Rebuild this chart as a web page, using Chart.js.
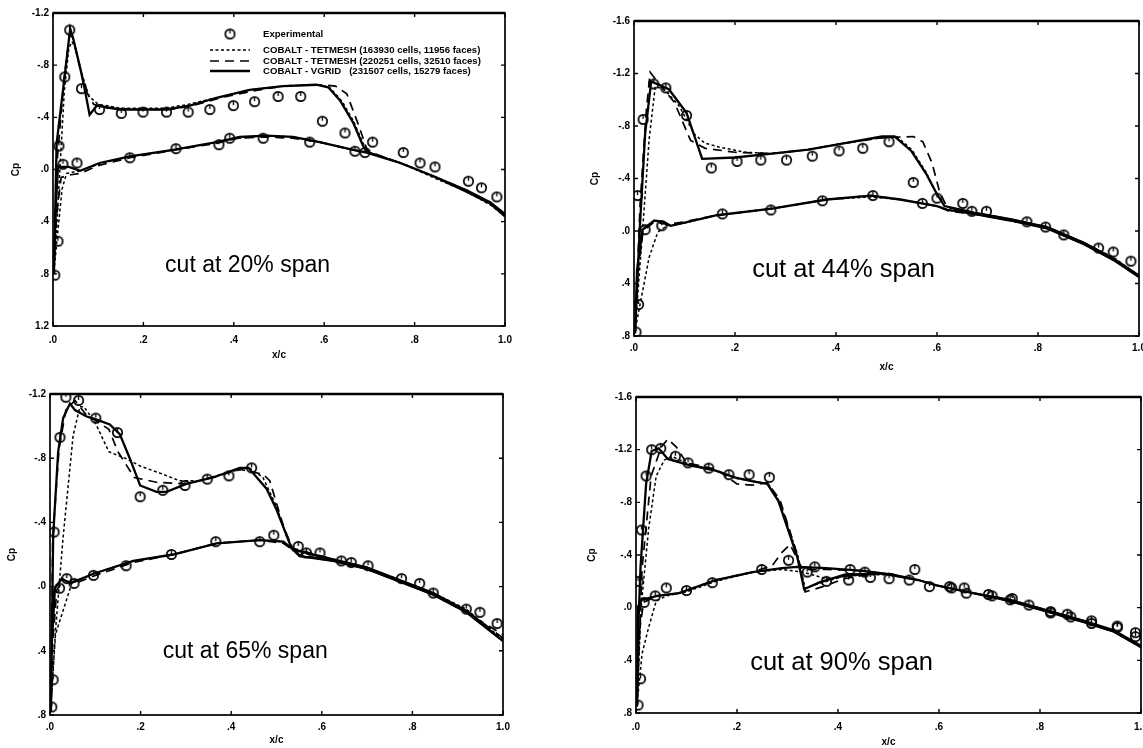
<!DOCTYPE html>
<html>
<head>
<meta charset="utf-8">
<script src="https://cdn.jsdelivr.net/npm/chart.js@4.4.1/dist/chart.umd.min.js"></script>
<style>
  body { margin: 0; background: #fff; width: 1143px; height: 748px; overflow: hidden; position: relative; }
  canvas { position: absolute; }
</style>
</head>
<body>
<canvas id="c1" width="520" height="372" style="left:0px;top:0px"></canvas>
<canvas id="c2" width="580" height="376" style="left:578px;top:0px"></canvas>
<canvas id="c3" width="520" height="374" style="left:0px;top:374px"></canvas>
<canvas id="c4" width="580" height="373" style="left:578px;top:375px"></canvas>
<script>
'use strict'

// ------------------------- Ejes -------------------------------------- //
const xTicks = [0, 0.2, 0.4, 0.6, 0.8, 1.0];
const xTickLabels = ['.0', '.2', '.4', '.6', '.8', '1.0'];
const yTicks12 = [-1.2, -0.8, -0.4, 0, 0.4, 0.8, 1.2];
const yTickLabels12 = ['-1.2', '-.8', '-.4', '.0', '.4', '.8', '1.2'];
const yTicks16 = [-1.6, -1.2, -0.8, -0.4, 0, 0.4, 0.8];
const yTickLabels16 = ['-1.6', '-1.2', '-.8', '-.4', '.0', '.4', '.8'];
const yTicks08 = [-1.2, -0.8, -0.4, 0, 0.4, 0.8];
const yTickLabels08 = ['-1.2', '-.8', '-.4', '.0', '.4', '.8'];

const seriesLabels = [
    'Experimental',
    'COBALT - TETMESH (163930 cells, 11956 faces)',
    'COBALT - TETMESH (220251 cells, 32510 faces)',
    'COBALT - VGRID   (231507 cells, 15279 faces)'
];
const cutLabels = ['cut at 20% span', 'cut at 44% span', 'cut at 65% span', 'cut at 90% span'];

// ------------------------- 20% span -------------------------------------- //
const p1Exp = [
    [0.004,0.81],[0.011,0.55],[0.013,-0.18],[0.026,-0.71],[0.037,-1.07],[0.063,-0.62],[0.103,-0.46],[0.151,-0.43],
    [0.199,-0.44],[0.251,-0.44],[0.299,-0.44],[0.347,-0.46],[0.399,-0.49],[0.446,-0.52],[0.498,-0.56],[0.548,-0.56],
    [0.596,-0.37],[0.646,-0.28],[0.707,-0.21],[0.775,-0.13],[0.812,-0.05],[0.845,-0.02],[0.919,0.09],[0.948,0.14],[0.982,0.21],
    [0.022,-0.04],[0.053,-0.05],[0.170,-0.09],[0.272,-0.16],[0.367,-0.19],[0.391,-0.24],[0.465,-0.24],[0.568,-0.21],[0.668,-0.14],[0.690,-0.13]
];
const p1Tet1Upper = [
    [0.003,0.75],[0.012,0.2],[0.025,-0.6],[0.035,-0.93],[0.042,-0.98],[0.05,-0.93],[0.065,-0.72],[0.08,-0.56],[0.1,-0.5],
    [0.15,-0.47],[0.2,-0.47],[0.25,-0.47],[0.3,-0.5],[0.36,-0.55],[0.435,-0.61],[0.51,-0.64],[0.585,-0.65],[0.612,-0.63],
    [0.64,-0.52],[0.665,-0.37],[0.69,-0.17],[0.70,-0.13],[0.77,-0.05],[0.84,0.05],[0.915,0.17],[0.967,0.26],[1.0,0.35]
];
const p1Tet1Lower = [
    [0.003,0.75],[0.01,0.5],[0.02,0.15],[0.03,0.03],[0.045,0.02],[0.06,0.01],[0.1,-0.04],[0.17,-0.1],[0.266,-0.15],
    [0.36,-0.21],[0.41,-0.24],[0.47,-0.26],[0.53,-0.25],[0.59,-0.21],[0.664,-0.15],[0.7,-0.13],[0.77,-0.05],[0.84,0.06],
    [0.915,0.17],[0.967,0.27],[1.0,0.36]
];
const p1Tet2Upper = [
    [0.002,0.78],[0.01,-0.1],[0.024,-0.68],[0.036,-1.02],[0.043,-1.02],[0.055,-0.85],[0.07,-0.62],[0.09,-0.5],[0.12,-0.47],
    [0.2,-0.46],[0.26,-0.46],[0.31,-0.49],[0.37,-0.55],[0.44,-0.6],[0.51,-0.64],[0.59,-0.65],[0.625,-0.64],[0.65,-0.58],
    [0.675,-0.35],[0.695,-0.15],[0.72,-0.11],[0.77,-0.05],[0.84,0.05],[0.915,0.17],[0.967,0.26],[1.0,0.35]
];
const p1Tet2Lower = [
    [0.002,0.78],[0.008,0.35],[0.018,0.06],[0.04,0.04],[0.06,0.03],[0.1,-0.03],[0.17,-0.09],[0.27,-0.15],[0.36,-0.2],
    [0.41,-0.24],[0.47,-0.25],[0.53,-0.24],[0.59,-0.21],[0.664,-0.15],[0.7,-0.13],[0.77,-0.05],[0.84,0.05],[0.915,0.16],
    [0.967,0.25],[1.0,0.35]
];
const p1VgridUpper = [
    [0.002,0.80],[0.008,-0.20],[0.026,-0.72],[0.038,-1.08],[0.045,-1.0],[0.066,-0.69],[0.081,-0.42],[0.097,-0.49],
    [0.148,-0.46],[0.200,-0.46],[0.251,-0.46],[0.303,-0.49],[0.362,-0.55],[0.435,-0.61],[0.509,-0.64],[0.583,-0.65],
    [0.609,-0.63],[0.635,-0.53],[0.664,-0.36],[0.686,-0.18],[0.697,-0.13],[0.768,-0.05],[0.841,0.05],[0.915,0.17],
    [0.967,0.26],[1.0,0.36]
];
const p1VgridLower = [
    [0.002,0.80],[0.006,0.3],[0.011,-0.02],[0.035,-0.02],[0.060,0.01],[0.103,-0.05],[0.170,-0.10],[0.266,-0.15],
    [0.362,-0.21],[0.413,-0.25],[0.472,-0.26],[0.531,-0.25],[0.590,-0.21],[0.664,-0.15],[0.694,-0.13],[0.768,-0.05],
    [0.841,0.05],[0.915,0.16],[0.967,0.25],[1.0,0.34]
];

// ------------------------- 44% span -------------------------------------- //
const p2Exp = [
    [0.004,0.77],[0.009,0.56],[0.007,-0.27],[0.018,-0.85],[0.039,-1.12],[0.063,-1.09],[0.104,-0.88],[0.153,-0.48],
    [0.204,-0.53],[0.251,-0.54],[0.302,-0.54],[0.353,-0.57],[0.406,-0.61],[0.453,-0.63],[0.505,-0.68],[0.553,-0.37],
    [0.6,-0.25],[0.651,-0.21],[0.669,-0.15],[0.698,-0.15],[0.778,-0.07],[0.815,-0.03],[0.851,0.03],[0.92,0.13],
    [0.949,0.16],[0.984,0.23],
    [0.022,-0.01],[0.055,-0.04],[0.175,-0.13],[0.271,-0.16],[0.373,-0.23],[0.473,-0.27],[0.571,-0.21]
];
const p2Tet1Upper = [
    [0.002,0.76],[0.015,0.1],[0.03,-0.7],[0.042,-1.1],[0.06,-1.08],[0.09,-0.95],[0.119,-0.74],[0.14,-0.67],[0.168,-0.64],
    [0.22,-0.6],[0.28,-0.59],[0.345,-0.62],[0.418,-0.67],[0.49,-0.71],[0.52,-0.72],[0.55,-0.62],[0.578,-0.45],[0.6,-0.28],
    [0.615,-0.19],[0.673,-0.14],[0.745,-0.09],[0.818,-0.03],[0.891,0.09],[0.949,0.2],[1.0,0.34]
];
const p2Tet1Lower = [
    [0.002,0.76],[0.015,0.5],[0.03,0.2],[0.047,0.01],[0.065,-0.04],[0.1,-0.06],[0.164,-0.12],[0.273,-0.17],[0.382,-0.24],
    [0.469,-0.26],[0.527,-0.24],[0.6,-0.19],[0.622,-0.16],[0.673,-0.13],[0.745,-0.08],[0.818,-0.02],[0.891,0.1],
    [0.949,0.21],[1.0,0.34]
];
const p2Tet2Upper = [
    [0.002,0.77],[0.012,-0.2],[0.024,-0.9],[0.032,-1.21],[0.05,-1.12],[0.08,-0.98],[0.112,-0.69],[0.141,-0.63],[0.2,-0.6],
    [0.273,-0.59],[0.345,-0.62],[0.418,-0.67],[0.49,-0.71],[0.553,-0.72],[0.572,-0.68],[0.59,-0.52],[0.605,-0.3],
    [0.62,-0.18],[0.673,-0.14],[0.745,-0.09],[0.818,-0.03],[0.891,0.09],[0.949,0.21],[1.0,0.34]
];
const p2Tet2Lower = [
    [0.002,0.77],[0.008,0.3],[0.018,0.0],[0.04,-0.07],[0.065,-0.05],[0.1,-0.07],[0.164,-0.12],[0.273,-0.17],[0.382,-0.24],
    [0.469,-0.27],[0.527,-0.24],[0.6,-0.19],[0.625,-0.15],[0.673,-0.13],[0.745,-0.08],[0.818,-0.02],[0.891,0.1],
    [0.949,0.22],[1.0,0.35]
];
const p2VgridUpper = [
    [0.002,0.78],[0.011,0.01],[0.022,-0.74],[0.034,-1.14],[0.069,-1.08],[0.104,-0.9],[0.135,-0.55],[0.2,-0.56],
    [0.273,-0.59],[0.345,-0.62],[0.418,-0.67],[0.491,-0.72],[0.516,-0.72],[0.549,-0.61],[0.578,-0.44],[0.6,-0.28],
    [0.615,-0.19],[0.673,-0.14],[0.745,-0.09],[0.818,-0.03],[0.891,0.09],[0.949,0.21],[1.0,0.34]
];
const p2VgridLower = [
    [0.002,0.78],[0.006,0.3],[0.017,-0.01],[0.04,-0.08],[0.058,-0.07],[0.073,-0.04],[0.164,-0.12],[0.273,-0.17],
    [0.382,-0.24],[0.469,-0.27],[0.527,-0.24],[0.6,-0.19],[0.622,-0.16],[0.673,-0.13],[0.745,-0.08],[0.818,-0.02],
    [0.891,0.1],[0.949,0.22],[1.0,0.35]
];

// ------------------------- 65% span -------------------------------------- //
const p3Exp = [
    [0.004,0.75],[0.007,0.58],[0.009,-0.34],[0.022,-0.93],[0.035,-1.18],[0.063,-1.16],[0.101,-1.05],[0.149,-0.96],
    [0.199,-0.56],[0.249,-0.6],[0.298,-0.63],[0.347,-0.67],[0.395,-0.69],[0.445,-0.74],[0.548,-0.25],[0.566,-0.21],
    [0.596,-0.21],[0.643,-0.16],[0.665,-0.15],[0.702,-0.13],[0.776,-0.05],[0.816,-0.02],[0.846,0.04],[0.919,0.14],
    [0.949,0.16],[0.987,0.23],
    [0.021,0.01],[0.037,-0.05],[0.053,-0.02],[0.096,-0.07],[0.168,-0.13],[0.268,-0.2],[0.366,-0.28],[0.463,-0.28],[0.494,-0.32]
];
const p3Tet1Upper = [
    [0.002,0.75],[0.012,0.28],[0.029,-0.31],[0.051,-0.94],[0.066,-1.12],[0.075,-1.12],[0.1,-1.02],[0.13,-0.84],
    [0.166,-0.8],[0.2,-0.75],[0.24,-0.71],[0.285,-0.66],[0.33,-0.66],[0.404,-0.72],[0.44,-0.74],[0.47,-0.68],[0.5,-0.5],
    [0.52,-0.33],[0.537,-0.22],[0.625,-0.17],[0.699,-0.12],[0.772,-0.04],[0.846,0.04],[0.919,0.14],[1.0,0.33]
];
const p3Tet1Lower = [
    [0.002,0.75],[0.012,0.3],[0.022,0.21],[0.048,-0.02],[0.096,-0.08],[0.184,-0.16],[0.272,-0.2],[0.368,-0.27],
    [0.463,-0.29],[0.515,-0.28],[0.551,-0.19],[0.625,-0.16],[0.699,-0.11],[0.772,-0.03],[0.846,0.05],[0.919,0.15],[1.0,0.33]
];
const p3Tet2Upper = [
    [0.002,0.77],[0.006,-0.3],[0.02,-0.86],[0.035,-1.1],[0.055,-1.16],[0.08,-1.07],[0.103,-1.03],[0.13,-0.98],[0.15,-0.84],
    [0.186,-0.68],[0.235,-0.65],[0.3,-0.64],[0.36,-0.68],[0.42,-0.73],[0.47,-0.7],[0.485,-0.66],[0.515,-0.38],[0.535,-0.24],
    [0.625,-0.17],[0.699,-0.12],[0.772,-0.04],[0.846,0.04],[0.919,0.15],[1.0,0.32]
];
const p3Tet2Lower = [
    [0.002,0.77],[0.006,0.35],[0.015,0.02],[0.03,-0.04],[0.055,-0.02],[0.1,-0.07],[0.184,-0.15],[0.272,-0.2],[0.368,-0.27],
    [0.463,-0.29],[0.515,-0.27],[0.55,-0.2],[0.625,-0.16],[0.699,-0.11],[0.772,-0.03],[0.846,0.05],[0.919,0.16],[1.0,0.3]
];
const p3VgridUpper = [
    [0.002,0.78],[0.004,0.35],[0.007,-0.32],[0.018,-0.84],[0.029,-1.05],[0.044,-1.14],[0.055,-1.1],[0.081,-1.06],
    [0.103,-1.04],[0.132,-1.01],[0.154,-0.95],[0.176,-0.8],[0.199,-0.63],[0.235,-0.59],[0.257,-0.59],[0.301,-0.64],
    [0.36,-0.68],[0.419,-0.74],[0.438,-0.74],[0.478,-0.61],[0.5,-0.48],[0.529,-0.27],[0.537,-0.23],[0.625,-0.17],
    [0.699,-0.12],[0.772,-0.04],[0.846,0.04],[0.919,0.15],[1.0,0.34]
];
const p3VgridLower = [
    [0.002,0.78],[0.004,0.35],[0.011,0.01],[0.026,-0.05],[0.044,-0.02],[0.096,-0.08],[0.184,-0.16],[0.272,-0.2],
    [0.368,-0.27],[0.463,-0.29],[0.515,-0.28],[0.537,-0.23],[0.551,-0.19],[0.625,-0.16],[0.699,-0.11],[0.772,-0.03],
    [0.846,0.05],[0.919,0.16],[1.0,0.34]
];

// ------------------------- 90% span -------------------------------------- //
const p4Exp = [
    [0.004,0.74],[0.009,0.54],[0.004,-0.2],[0.011,-0.59],[0.02,-1.0],[0.031,-1.2],[0.049,-1.21],[0.078,-1.15],[0.103,-1.1],
    [0.144,-1.06],[0.184,-1.01],[0.224,-1.01],[0.264,-0.99],[0.302,-0.36],[0.354,-0.31],[0.424,-0.29],[0.453,-0.27],
    [0.501,-0.22],[0.552,-0.29],[0.621,-0.16],[0.65,-0.15],[0.698,-0.1],[0.745,-0.07],[0.778,-0.02],[0.821,0.03],
    [0.854,0.05],[0.902,0.1],[0.953,0.15],[0.989,0.19],
    [0.016,-0.04],[0.038,-0.09],[0.06,-0.15],[0.1,-0.13],[0.151,-0.19],[0.249,-0.29],[0.339,-0.27],[0.377,-0.2],
    [0.421,-0.21],[0.464,-0.23],[0.541,-0.21],[0.581,-0.16],[0.625,-0.15],[0.654,-0.11],[0.705,-0.09],[0.741,-0.06],
    [0.821,0.04],[0.861,0.07],[0.902,0.12],[0.953,0.14],[0.989,0.22]
];
const p4Tet1Upper = [
    [0.002,0.74],[0.01,0.0],[0.025,-0.6],[0.04,-1.0],[0.056,-1.12],[0.07,-1.15],[0.1,-1.1],[0.158,-1.04],[0.2,-0.98],
    [0.235,-0.96],[0.262,-0.94],[0.285,-0.8],[0.32,-0.4],[0.335,-0.15],[0.36,-0.18],[0.413,-0.24],[0.486,-0.26],
    [0.559,-0.21],[0.595,-0.17],[0.668,-0.11],[0.741,-0.06],[0.814,0.02],[0.887,0.1],[0.945,0.18],[1.0,0.29]
];
const p4Tet1Lower = [
    [0.002,0.74],[0.012,0.35],[0.025,0.15],[0.04,-0.05],[0.06,-0.09],[0.1,-0.12],[0.158,-0.2],[0.231,-0.27],[0.289,-0.29],
    [0.33,-0.27],[0.377,-0.22],[0.45,-0.25],[0.508,-0.25],[0.559,-0.21],[0.595,-0.17],[0.668,-0.11],[0.741,-0.05],
    [0.814,0.03],[0.887,0.11],[0.945,0.18],[1.0,0.3]
];
const p4Tet2Upper = [
    [0.002,0.75],[0.012,-0.3],[0.03,-1.0],[0.05,-1.22],[0.063,-1.28],[0.08,-1.22],[0.1,-1.1],[0.16,-1.05],[0.2,-0.94],
    [0.23,-0.93],[0.26,-0.95],[0.285,-0.82],[0.318,-0.42],[0.335,-0.12],[0.37,-0.16],[0.413,-0.22],[0.47,-0.26],
    [0.5,-0.26],[0.559,-0.21],[0.595,-0.17],[0.668,-0.11],[0.741,-0.06],[0.814,0.02],[0.887,0.1],[0.945,0.18],[1.0,0.29]
];
const p4Tet2Lower = [
    [0.002,0.75],[0.006,0.2],[0.015,-0.04],[0.042,-0.09],[0.085,-0.11],[0.158,-0.21],[0.231,-0.27],[0.27,-0.32],
    [0.289,-0.42],[0.305,-0.48],[0.318,-0.38],[0.33,-0.29],[0.377,-0.29],[0.45,-0.28],[0.508,-0.25],[0.559,-0.21],
    [0.595,-0.17],[0.668,-0.11],[0.741,-0.05],[0.814,0.03],[0.887,0.11],[0.945,0.18],[1.0,0.3]
];
const p4VgridUpper = [
    [0.002,0.75],[0.004,0.2],[0.009,-0.31],[0.02,-0.94],[0.031,-1.19],[0.045,-1.21],[0.063,-1.13],[0.107,-1.08],
    [0.158,-1.04],[0.195,-0.99],[0.231,-0.96],[0.26,-0.94],[0.282,-0.81],[0.319,-0.39],[0.333,-0.14],[0.362,-0.19],
    [0.413,-0.25],[0.486,-0.26],[0.559,-0.21],[0.595,-0.17],[0.668,-0.11],[0.741,-0.06],[0.814,0.02],[0.887,0.1],
    [0.945,0.17],[1.0,0.29]
];
const p4VgridLower = [
    [0.002,0.75],[0.004,-0.01],[0.012,-0.06],[0.042,-0.09],[0.085,-0.11],[0.158,-0.21],[0.231,-0.27],[0.289,-0.3],
    [0.319,-0.31],[0.377,-0.3],[0.45,-0.28],[0.508,-0.25],[0.559,-0.21],[0.595,-0.17],[0.668,-0.11],[0.741,-0.05],
    [0.814,0.03],[0.887,0.11],[0.945,0.18],[1.0,0.3]
];

// ------------------------- Funciones -------------------------------------- //
const FONT = "'Liberation Sans', Arial, Helvetica, sans-serif";

function toPoints(arr) {
    return arr.map(p => ({x: p[0], y: p[1]}));
}

// borde de salida -> borde de ataque por el extrados, y vuelta por el intrados
function loop(upper, lower) {
    return toPoints(upper.slice().reverse().concat(lower.slice(1)));
}

function makeMarker() {
    const c = document.createElement('canvas');
    c.width = 13;
    c.height = 13;
    const g = c.getContext('2d');
    g.strokeStyle = '#000';
    g.lineWidth = 1.7;
    g.beginPath();
    g.arc(6.5, 6.5, 4.7, 0, 2 * Math.PI);
    g.stroke();
    g.lineWidth = 1.3;
    g.beginPath();
    g.moveTo(6.5, 2.5);
    g.lineTo(6.5, 6);
    g.stroke();
    return c;
}
const marker = makeMarker();

function drawLegend(chart, lg) {
    const ctx = chart.ctx;
    const sets = chart.data.datasets;
    ctx.font = 'bold 9.6px ' + FONT;
    ctx.textAlign = 'left';
    ctx.textBaseline = 'middle';
    for (let i = 0; i < sets.length; i++) {
        const y = lg.rows[i];
        const ds = sets[i];
        if (i === 0) {
            ctx.drawImage(marker, (lg.x0 + lg.x1) / 2 - marker.width / 2, y - marker.height / 2);
        } else {
            ctx.save();
            ctx.lineWidth = ds.borderWidth;
            ctx.setLineDash(ds.borderDash || []);
            ctx.beginPath();
            ctx.moveTo(lg.x0, y);
            ctx.lineTo(lg.x1, y);
            ctx.stroke();
            ctx.restore();
        }
        ctx.fillText(ds.label, lg.tx, y);
    }
}

const framePlugin = {
    id: 'cpFrame',
    afterDraw(chart, args, opts) {
        const ctx = chart.ctx;
        const a = chart.chartArea;
        const xs = chart.scales.x;
        const ys = chart.scales.y;
        ctx.save();
        ctx.strokeStyle = '#000';
        ctx.fillStyle = '#000';
        ctx.lineWidth = 1.7;
        ctx.strokeRect(a.left, a.top, a.right - a.left, a.bottom - a.top);
        ctx.lineWidth = 2.6;
        ctx.beginPath();
        ctx.moveTo(a.left, a.top);
        ctx.lineTo(a.right, a.top);
        ctx.stroke();
        // marcas hacia dentro en los cuatro lados
        ctx.lineWidth = 1.4;
        ctx.beginPath();
        for (const t of xs.ticks) {
            const px = xs.getPixelForValue(t.value);
            ctx.moveTo(px, a.bottom); ctx.lineTo(px, a.bottom - 4);
            ctx.moveTo(px, a.top); ctx.lineTo(px, a.top + 4);
        }
        for (const t of ys.ticks) {
            const py = ys.getPixelForValue(t.value);
            ctx.moveTo(a.left, py); ctx.lineTo(a.left + 4, py);
            ctx.moveTo(a.right, py); ctx.lineTo(a.right - 4, py);
        }
        ctx.stroke();
        // texto del corte
        ctx.font = opts.size + 'px ' + FONT;
        ctx.textAlign = 'left';
        ctx.textBaseline = 'alphabetic';
        ctx.fillText(opts.text, xs.getPixelForValue(opts.tx), ys.getPixelForValue(opts.ty));
        if (opts.legend) drawLegend(chart, opts.legend);
        ctx.restore();
    }
};

function makePanel(id, p) {
    const tickFont = {family: FONT, size: 10, weight: 'bold'};
    const datasets = [
        {label: seriesLabels[0], data: toPoints(p.exp), showLine: false, pointStyle: marker, pointRadius: 5},
        {label: seriesLabels[1], data: loop(p.tet1[0], p.tet1[1]), showLine: true, borderColor: '#000',
            borderWidth: 1.5, borderDash: [3, 2.5], pointRadius: 0, tension: 0},
        {label: seriesLabels[2], data: loop(p.tet2[0], p.tet2[1]), showLine: true, borderColor: '#000',
            borderWidth: 1.7, borderDash: [9, 6], pointRadius: 0, tension: 0},
        {label: seriesLabels[3], data: loop(p.vgrid[0], p.vgrid[1]), showLine: true, borderColor: '#000',
            borderWidth: 2.3, pointRadius: 0, tension: 0}
    ];
    const ctx = document.getElementById(id).getContext('2d');
    return new Chart(ctx, {
        type: 'scatter',
        data: {datasets: datasets},
        options: {
            responsive: false,
            animation: false,
            devicePixelRatio: 1,
            events: [],
            layout: {padding: {left: 0, top: p.padTop, right: p.padRight, bottom: 0}},
            scales: {
                x: {
                    type: 'linear', min: 0, max: 1,
                    grid: {display: false, drawTicks: false},
                    border: {display: false},
                    afterBuildTicks: s => { s.ticks = xTicks.map(v => ({value: v})); },
                    afterFit: s => { s.height = p.xh; },
                    ticks: {padding: p.xPad, font: tickFont, color: '#000', maxRotation: 0, autoSkip: false,
                        callback: (v, i) => xTickLabels[i]},
                    title: {display: true, text: 'x/c', color: '#000', font: tickFont,
                        padding: {top: 0, bottom: p.xTitlePad}}
                },
                y: {
                    type: 'linear', reverse: true, min: p.yTicks[0], max: p.yTicks[p.yTicks.length - 1],
                    grid: {display: false, drawTicks: false},
                    border: {display: false},
                    afterBuildTicks: s => { s.ticks = p.yTicks.map(v => ({value: v})); },
                    afterFit: s => { s.width = p.yw; },
                    ticks: {padding: 4, font: tickFont, color: '#000', autoSkip: false,
                        callback: (v, i) => p.yLabels[i]},
                    title: {display: true, text: 'Cp', color: '#000', font: tickFont,
                        padding: {top: p.cpPad, bottom: 0}}
                }
            },
            plugins: {
                legend: {display: false},
                tooltip: {enabled: false},
                cpFrame: {text: p.cut, size: p.cutSize, tx: p.tx, ty: p.ty, legend: p.legend}
            }
        },
        plugins: [framePlugin]
    });
}

// ------------------------------ Main ------------------------------ //
makePanel('c1', {
    exp: p1Exp, tet1: [p1Tet1Upper, p1Tet1Lower], tet2: [p1Tet2Upper, p1Tet2Lower], vgrid: [p1VgridUpper, p1VgridLower],
    yTicks: yTicks12, yLabels: yTickLabels12, cut: cutLabels[0], cutSize: 23, tx: 0.248, ty: 0.786,
    yw: 53, padTop: 13, padRight: 15, xh: 46, xPad: 8, xTitlePad: 11, cpPad: 10,
    legend: {x0: 210, x1: 250, tx: 263, rows: [34, 50, 61, 71]}
});
makePanel('c2', {
    exp: p2Exp, tet1: [p2Tet1Upper, p2Tet1Lower], tet2: [p2Tet2Upper, p2Tet2Lower], vgrid: [p2VgridUpper, p2VgridLower],
    yTicks: yTicks16, yLabels: yTickLabels16, cut: cutLabels[1], cutSize: 25.5, tx: 0.234, ty: 0.35,
    yw: 56, padTop: 21, padRight: 19, xh: 40, xPad: 6, xTitlePad: 3, cpPad: 11
});
makePanel('c3', {
    exp: p3Exp, tet1: [p3Tet1Upper, p3Tet1Lower], tet2: [p3Tet2Upper, p3Tet2Lower], vgrid: [p3VgridUpper, p3VgridLower],
    yTicks: yTicks08, yLabels: yTickLabels08, cut: cutLabels[2], cutSize: 23, tx: 0.249, ty: 0.445,
    yw: 50, padTop: 20, padRight: 17, xh: 33, xPad: 6, xTitlePad: 2, cpPad: 6
});
makePanel('c4', {
    exp: p4Exp, tet1: [p4Tet1Upper, p4Tet1Lower], tet2: [p4Tet2Upper, p4Tet2Lower], vgrid: [p4VgridUpper, p4VgridLower],
    yTicks: yTicks16, yLabels: yTickLabels16, cut: cutLabels[3], cutSize: 25.5, tx: 0.226, ty: 0.473,
    yw: 58, padTop: 22, padRight: 17, xh: 35, xPad: 8, xTitlePad: 0, cpPad: 8
});
</script>
</body>
</html>
